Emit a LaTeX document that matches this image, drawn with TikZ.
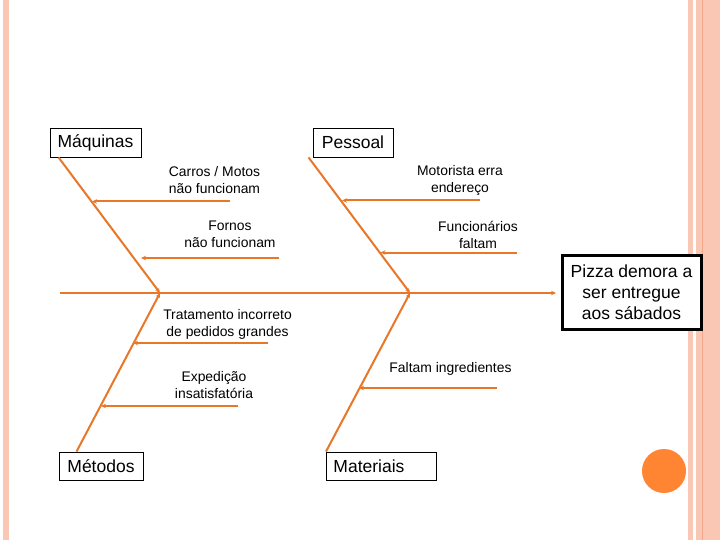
\documentclass[tikz,border=0pt]{standalone}
\usepackage{fontspec}
\setmainfont{Liberation Sans}
\usetikzlibrary{arrows.meta,calc}
\definecolor{fishorange}{RGB}{232,119,40}
\definecolor{stripepink}{RGB}{249,199,180}
\definecolor{stripedark}{RGB}{242,168,138}
\definecolor{dotorange}{RGB}{255,133,51}
\tikzset{
  catbox/.style={draw=black, line width=0.9pt, fill=white, font=\fontsize{17.5}{20}\selectfont, inner sep=0pt},
  effectbox/.style={draw=black, line width=3pt, fill=white, align=center, font=\fontsize{17.5}{21}\selectfont, minimum width=139pt, minimum height=74pt, inner sep=0pt},
  causetext/.style={align=center, font=\fontsize{13.9}{17}\selectfont, inner sep=0pt},
  bone/.style={draw=fishorange, line width=2pt, -{Stealth[length=5pt,width=4.5pt]}},
  spine/.style={draw=fishorange, line width=2.5pt, -{Stealth[length=5pt,width=4.5pt]}},
  subbone/.style={draw=fishorange, line width=2pt, -{Stealth[length=5pt,width=4.5pt]}},
}
\begin{document}
\begin{tikzpicture}[x=1pt,y=-1pt]
\useasboundingbox (0,0) rectangle (720,540);
\fill[white] (0,0) rectangle (720,540);
% slide decorations
\fill[stripepink] (3,0) rectangle (9,540);
\fill[stripepink] (688,0) rectangle (692.5,540);
\fill[stripepink] (696,0) rectangle (720,540);
\draw[stripedark, line width=1.2pt] (702.5,0) -- (702.5,540);
\fill[dotorange] (664,471) circle[radius=22];

% category boxes
\node[catbox, minimum width=91pt, minimum height=29pt] (maq) at (95.5,142.5) {Máquinas};
\node[catbox, minimum width=80pt, minimum height=29pt] (pes) at (353,142.5) {Pessoal};
\node[catbox, minimum width=84pt, minimum height=28pt] (met) at (101,466) {Métodos};
\node[catbox, minimum height=28pt, text width=96pt, align=left, inner xsep=7pt, anchor=west] (mat) at (326,466) {Materiais};

% effect
\node[effectbox] (eff) at (631.5,292) {Pizza demora a\\ser entregue\\aos sábados};

% spine
\coordinate (tail) at (60,293);
\coordinate (j1) at (160,293);
\coordinate (j2) at (410,293);
\coordinate (head) at (556,293);
\draw[spine] (tail) -- (head);

% bones
\coordinate (maqs) at ($(maq.south west)+(9,0)$);
\coordinate (pess) at ($(pes.south west)+(-4,0)$);
\coordinate (mets) at ($(met.north west)+(18,0)$);
\coordinate (mats) at ($(mat.north west)+(0,0)$);
\draw[bone] (maqs) -- (j1);
\draw[bone] (pess) -- (j2);
\draw[bone] (mets) -- (j1);
\draw[bone] (mats) -- (j2);

% sub-bone coordinates
\coordinate (c1s) at (230,201.5);  \coordinate (c1e) at (92,201.5);
\coordinate (c2s) at (279,258);    \coordinate (c2e) at (141,258);
\coordinate (c3s) at (480,200.5);  \coordinate (c3e) at (342,200.5);
\coordinate (c4s) at (517,252.5);  \coordinate (c4e) at (380.5,252.5);
\coordinate (c5s) at (268,343);    \coordinate (c5e) at (133,343);
\coordinate (c6s) at (238,406);    \coordinate (c6e) at (101,406);
\coordinate (c7s) at (497,388);    \coordinate (c7e) at (359,388);
\draw[subbone] (c1s) -- (c1e);
\draw[subbone] (c2s) -- (c2e);
\draw[subbone] (c3s) -- (c3e);
\draw[subbone] (c4s) -- (c4e);
\draw[subbone] (c5s) -- (c5e);
\draw[subbone] (c6s) -- (c6e);
\draw[subbone] (c7s) -- (c7e);

% cause labels
\node[causetext] (t1) at (214.5,180) {Carros / Motos\\não funcionam};
\node[causetext] (t2) at (230,234.5) {Fornos\\não funcionam};
\node[causetext] (t3) at (460,180) {Motorista erra\\endereço};
\node[causetext] (t4) at (478,235) {Funcionários\\faltam};
\node[causetext] (t5) at (227.5,324) {Tratamento incorreto\\de pedidos grandes};
\node[causetext] (t6) at (214,385.5) {Expedição\\insatisfatória};
\node[causetext] (t7) at (450.5,369) {Faltam ingredientes};
\end{tikzpicture}
\end{document}
